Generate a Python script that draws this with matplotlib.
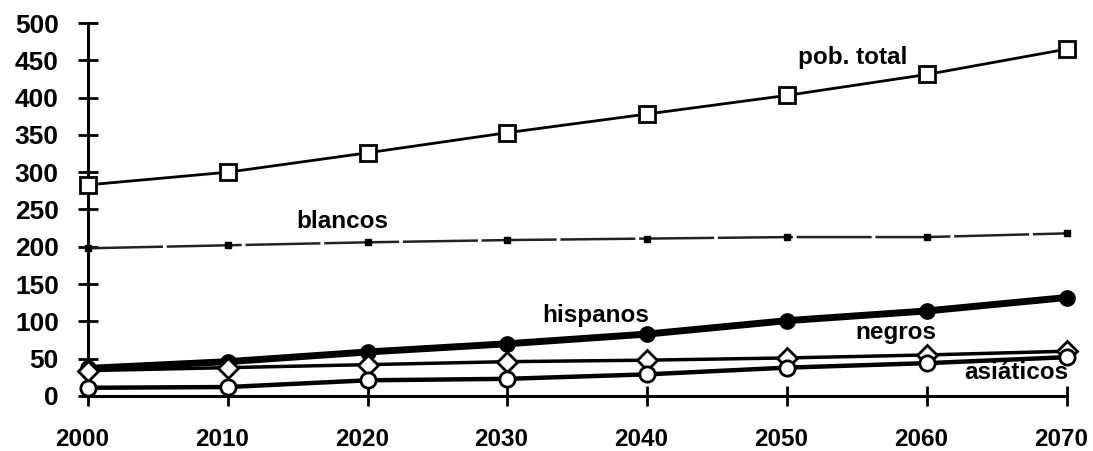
import matplotlib.pyplot as plt
from matplotlib.transforms import ScaledTranslation

# Datos (millones)
anios = [2000, 2010, 2020, 2030, 2040, 2050, 2060, 2070]
pob_total = [283, 300, 326, 353, 378, 403, 431, 465]
blancos = [198, 202, 206, 209, 211, 213, 213, 218]
hispanos = [37, 46, 59, 70, 83, 101, 114, 132]
negros = [34, 38, 42, 46, 48, 51, 55, 60]
asiaticos = [11, 12, 21, 23, 29, 38, 44, 52]

yticks = list(range(0, 501, 50))

plt.rcParams['font.family'] = ['Liberation Sans', 'DejaVu Sans']

fig = plt.figure(figsize=(10.93, 4.51), dpi=100)
ax = fig.add_axes([0.0805, 0.122, 0.8955, 0.827])

ax.plot(anios, pob_total, color='black', lw=2, marker='s', ms=11,
        mfc='white', mec='black', mew=2, clip_on=False, zorder=5)
ax.plot(anios, blancos, color='#222222', lw=1.8, ls=(0, (30, 1.5)),
        marker='s', ms=4, mfc='black', mec='black', clip_on=False, zorder=4)
ax.plot(anios, hispanos, color='black', lw=5, marker='o', ms=11,
        mfc='black', mec='black', clip_on=False, zorder=4)
ax.plot(anios, negros, color='black', lw=2.5, marker='D', ms=10,
        mfc='white', mec='black', mew=2, clip_on=False, zorder=5)
ax.plot(anios, asiaticos, color='black', lw=3.2, marker='o', ms=11,
        mfc='white', mec='black', mew=2, clip_on=False, zorder=5)

# etiquetas de las series
etiq = dict(fontsize=17.5, fontweight='bold', ha='center', va='center')
ax.text(2054.7, 454, 'pob. total', **etiq)
ax.text(2018.2, 234, 'blancos', **etiq)
ax.text(2036.3, 108, 'hispanos', **etiq)
ax.text(2057.8, 85, 'negros', **etiq)
ax.text(2066.4, 31, 'asiáticos', **etiq)

ax.set_xlim(2000, 2070)
ax.set_ylim(0, 500)
ax.set_xticks(anios)
ax.set_yticks(yticks)
ax.tick_params(axis='both', direction='inout', length=14, width=2)
ax.tick_params(axis='x', pad=16, labelsize=17.5)
ax.tick_params(axis='y', pad=14, labelsize=19)

# las etiquetas del eje x quedan un poco a la izquierda de cada marca
desplaz = ScaledTranslation(-0.06, 0, fig.dpi_scale_trans)
for lbl in ax.get_xticklabels():
    lbl.set_fontweight('bold')
    lbl.set_transform(lbl.get_transform() + desplaz)
for lbl in ax.get_yticklabels():
    lbl.set_fontweight('bold')

for s in ['top', 'right']:
    ax.spines[s].set_visible(False)
ax.spines['left'].set_linewidth(2.2)
ax.spines['bottom'].set_linewidth(2.2)

fig.savefig('out.png', dpi=100)
